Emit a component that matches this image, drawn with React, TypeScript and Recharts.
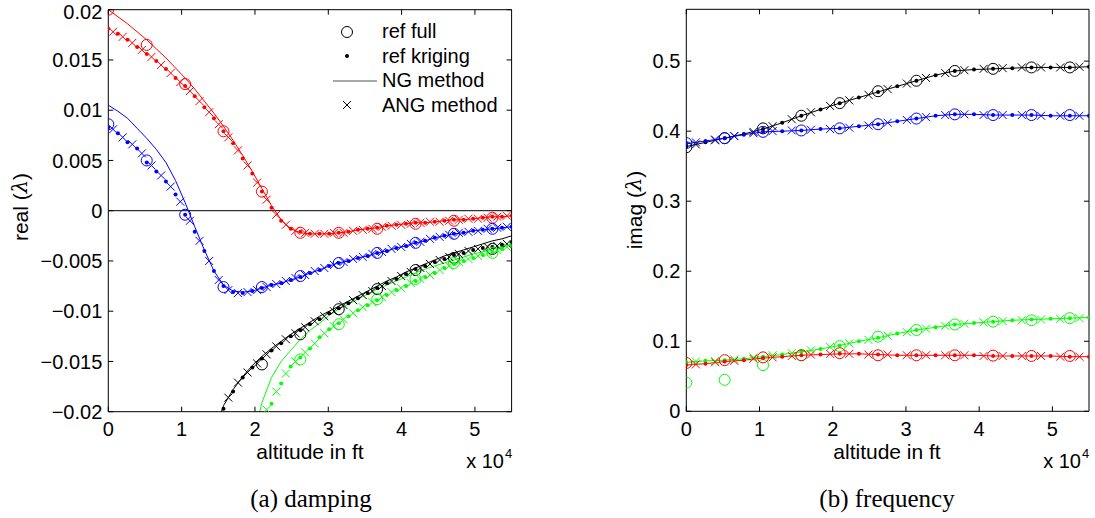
import React from 'react';
import { ComposedChart, Line, XAxis, YAxis, ReferenceLine, Legend } from 'recharts';

const RED = '#ff0000';
const BLUE = '#0000ff';
const BLACK = '#000000';
const GREEN = '#00ff00';
const FONT = '"Liberation Sans", Arial, Helvetica, sans-serif';

// altitude in 1e4 ft
const altFull = [0, 0.524, 1.048, 1.571, 2.095, 2.619, 3.143, 3.667, 4.19, 4.714, 5.238];
const altKrig = [0, 0.131, 0.262, 0.393, 0.524, 0.655, 0.786, 0.917, 1.048, 1.179, 1.31, 1.441, 1.571, 1.702, 1.833, 1.964, 2.095, 2.226, 2.357, 2.488, 2.619, 2.75, 2.881, 3.012, 3.143, 3.274, 3.405, 3.536, 3.667, 3.798, 3.929, 4.06, 4.19, 4.321, 4.452, 4.583, 4.714, 4.845, 4.976, 5.107, 5.238, 5.369, 5.5];
const altAng = [0.065, 0.196, 0.327, 0.458, 0.589, 0.72, 0.851, 0.982, 1.113, 1.244, 1.375, 1.506, 1.637, 1.768, 1.899, 2.03, 2.16, 2.291, 2.422, 2.553, 2.684, 2.815, 2.946, 3.077, 3.208, 3.339, 3.47, 3.601, 3.732, 3.863, 3.994, 4.125, 4.256, 4.387, 4.518, 4.649, 4.78, 4.911, 5.042, 5.173, 5.304, 5.435];
const altR = [0, 0.262, 0.524, 0.786, 1.048, 1.31, 1.571, 1.833, 2.095, 2.357, 2.619, 2.881, 3.143, 3.405, 3.667, 3.929, 4.19, 4.452, 4.714, 4.976, 5.238, 5.5];
const altRAng = [0.131, 0.393, 0.655, 0.917, 1.179, 1.441, 1.702, 1.964, 2.226, 2.488, 2.75, 3.012, 3.274, 3.536, 3.798, 4.06, 4.321, 4.583, 4.845, 5.107, 5.369];

const xTicks = [0, 1, 2, 3, 4, 5];
const realTicks = [-0.02, -0.015, -0.01, -0.005, 0, 0.005, 0.01, 0.015, 0.02];
const imagTicks = [0, 0.1, 0.2, 0.3, 0.4, 0.5];

const N = null;

// ---- damping (real part) ----
const realFullRed = [0.02, 0.0165, 0.0126, 0.0079, 0.0019, -0.0022, -0.0022, -0.0018, -0.0013, -0.001, -0.0007];
const realFullBlue = [0.0086, 0.005, -0.0004, -0.0076, -0.0076, -0.0065, -0.0052, -0.0042, -0.0032, -0.0023, -0.0018];
const realFullBlack = [N, N, N, N, -0.0153, -0.0123, -0.0098, -0.0078, -0.0059, -0.0047, -0.0038];
const realFullGreen = [N, N, N, N, N, -0.0148, -0.0113, -0.0088, -0.0068, -0.0052, -0.0042];

const realKrigRed = [0.0181, 0.0176, 0.017, 0.0163, 0.0156, 0.0149, 0.0141, 0.0132, 0.0124, 0.0114,
  0.0103, 0.0092, 0.0079, 0.0067, 0.0052, 0.0037, 0.0019, 0.0003, -0.001, -0.0018,
  -0.0021, -0.0023, -0.0023, -0.0023, -0.0022, -0.0021, -0.0019, -0.0018, -0.0017, -0.0015,
  -0.0014, -0.0013, -0.0012, -0.0012, -0.0011, -0.001, -0.0009, -0.0009, -0.0008, -0.0007,
  -0.0006, -0.0006, -0.0005];
const realKrigBlue = [0.0083, 0.0077, 0.0068, 0.0062, 0.0048, 0.0039, 0.0029, 0.0016, -0.0004, -0.0021,
  -0.004, -0.006, -0.0075, -0.0081, -0.0082, -0.008, -0.0077, -0.0074, -0.0072, -0.0069,
  -0.0066, -0.0062, -0.0059, -0.0055, -0.0052, -0.005, -0.0047, -0.0045, -0.0042, -0.004,
  -0.0037, -0.0035, -0.0032, -0.003, -0.0027, -0.0025, -0.0023, -0.0022, -0.002, -0.0019,
  -0.0018, -0.0017, -0.0016];
const realKrigBlack = [N, N, N, N, N, N, N, N, N, N,
  N, N, -0.0197, -0.018, -0.0166, -0.0156, -0.0147, -0.0139, -0.0132, -0.0125,
  -0.0119, -0.0113, -0.0108, -0.0102, -0.0097, -0.0092, -0.0087, -0.0082, -0.0077, -0.0072,
  -0.0068, -0.0063, -0.0058, -0.0055, -0.0051, -0.0048, -0.0044, -0.0042, -0.0039, -0.0037,
  -0.0036, -0.0034, -0.0032];
const realKrigGreen = [N, N, N, N, N, N, N, N, N, N,
  N, N, N, N, N, N, N, -0.0192, -0.0172, -0.0155,
  -0.0146, -0.0137, -0.0126, -0.0118, -0.0112, -0.0105, -0.0099, -0.0094, -0.0089, -0.0084,
  -0.0079, -0.0075, -0.007, -0.0066, -0.0062, -0.0057, -0.0053, -0.005, -0.0047, -0.0044,
  -0.0041, -0.0038, -0.0035];

const realNgRed = [0.02, 0.0193, 0.0186, 0.0178, 0.017, 0.0161, 0.0152, 0.0142, 0.0132, 0.0121,
  0.0109, 0.0097, 0.0084, 0.007, 0.0055, 0.0039, 0.0022, 0.0005, -0.0009, -0.0018,
  -0.0022, -0.0023, -0.0023, -0.0023, -0.0022, -0.0021, -0.0019, -0.0018, -0.0017, -0.0015,
  -0.0014, -0.0013, -0.0012, -0.0012, -0.0011, -0.001, -0.0009, -0.0009, -0.0008, -0.0007,
  -0.0006, -0.0006, -0.0005];
const realNgBlue = [0.0105, 0.0099, 0.0092, 0.0082, 0.0072, 0.0061, 0.0048, 0.003, 0.0008, -0.0016,
  -0.0039, -0.006, -0.0074, -0.008, -0.0081, -0.008, -0.0077, -0.0074, -0.0072, -0.0069,
  -0.0066, -0.0062, -0.0059, -0.0055, -0.0052, -0.005, -0.0047, -0.0045, -0.0042, -0.004,
  -0.0037, -0.0035, -0.0032, -0.003, -0.0027, -0.0025, -0.0023, -0.0022, -0.002, -0.0019,
  -0.0018, -0.0017, -0.0016];
const realNgBlack = [N, N, N, N, N, N, N, N, N, N,
  N, -0.0222, -0.0194, -0.0178, -0.0165, -0.0154, -0.0145, -0.0137, -0.013, -0.0123,
  -0.0117, -0.0111, -0.0105, -0.01, -0.0095, -0.009, -0.0085, -0.008, -0.0075, -0.007,
  -0.0066, -0.0061, -0.0057, -0.0053, -0.0049, -0.0045, -0.0042, -0.0039, -0.0036, -0.0033,
  -0.003, -0.0028, -0.0025];
const realNgGreen = [N, N, N, N, N, N, N, N, N, N,
  N, N, N, N, N, -0.023, -0.0191, -0.0166, -0.015, -0.0139,
  -0.0128, -0.0119, -0.0112, -0.0104, -0.0098, -0.0093, -0.0088, -0.0083, -0.0078, -0.0074,
  -0.007, -0.0066, -0.0062, -0.0058, -0.0055, -0.0052, -0.0049, -0.0046, -0.0043, -0.0041,
  -0.0038, -0.0036, -0.0034];

const realAngRed = [0.0178, 0.0173, 0.0167, 0.016, 0.0153, 0.0145, 0.0137, 0.0128, 0.0119, 0.0109,
  0.0098, 0.0086, 0.0073, 0.006, 0.0045, 0.0028, 0.0011, -0.0004, -0.0014, -0.002,
  -0.0022, -0.0023, -0.0023, -0.0022, -0.0022, -0.002, -0.0019, -0.0018, -0.0016, -0.0015,
  -0.0014, -0.0013, -0.0012, -0.0011, -0.0011, -0.001, -0.0009, -0.0008, -0.0008, -0.0007,
  -0.0006, -0.0005];
const realAngBlue = [0.0081, 0.0073, 0.0066, 0.0057, 0.0045, 0.0035, 0.0024, 0.0009, -0.001, -0.003,
  -0.005, -0.0069, -0.0079, -0.0082, -0.0081, -0.0079, -0.0076, -0.0073, -0.007, -0.0067,
  -0.0064, -0.006, -0.0057, -0.0054, -0.0051, -0.0048, -0.0046, -0.0043, -0.0041, -0.0038,
  -0.0036, -0.0033, -0.0031, -0.0028, -0.0026, -0.0024, -0.0022, -0.0021, -0.002, -0.0018,
  -0.0017, -0.0016];
const realAngBlack = [N, N, N, N, N, N, N, N, N, N,
  N, N, -0.0186, -0.0171, -0.0161, -0.0152, -0.0143, -0.0135, -0.0128, -0.0122,
  -0.0116, -0.011, -0.0105, -0.01, -0.0094, -0.0089, -0.0084, -0.008, -0.0075, -0.007,
  -0.0065, -0.0061, -0.0057, -0.0053, -0.0049, -0.0046, -0.0043, -0.004, -0.0038, -0.0036,
  -0.0035, -0.0033];
const realAngGreen = [N, N, N, N, N, N, N, N, N, N,
  N, N, N, N, N, N, -0.0198, -0.018, -0.0162, -0.015,
  -0.0141, -0.0132, -0.0122, -0.0115, -0.0108, -0.0102, -0.0096, -0.0091, -0.0086, -0.0081,
  -0.0077, -0.0072, -0.0068, -0.0064, -0.0059, -0.0055, -0.0051, -0.0048, -0.0045, -0.0042,
  -0.0039, -0.0036];

// ---- frequency (imaginary part) ----
const imagFullBlack = [0.377, 0.39, 0.404, 0.422, 0.44, 0.457, 0.472, 0.486, 0.489, 0.491, 0.491];
const imagFullBlue = [0.383, 0.39, 0.399, 0.401, 0.404, 0.41, 0.418, 0.424, 0.423, 0.423, 0.423];
const imagFullRed = [0.069, 0.073, 0.077, 0.08, 0.083, 0.08, 0.08, 0.08, 0.0795, 0.079, 0.079];
const imagFullGreen = [0.041, 0.045, 0.066, 0.08, 0.093, 0.1066, 0.116, 0.124, 0.128, 0.13, 0.133];

const imagKrigBlack = [0.378, 0.384, 0.39, 0.396, 0.403, 0.412, 0.422, 0.431, 0.44, 0.448, 0.456, 0.464, 0.472, 0.48, 0.486, 0.488, 0.489, 0.49, 0.491, 0.491, 0.491, 0.492];
const imagKrigBlue = [0.382, 0.386, 0.39, 0.395, 0.399, 0.4, 0.401, 0.403, 0.404, 0.407, 0.41, 0.414, 0.418, 0.422, 0.424, 0.424, 0.423, 0.423, 0.423, 0.422, 0.422, 0.422];
const imagKrigRed = [0.066, 0.068, 0.071, 0.073, 0.076, 0.078, 0.08, 0.081, 0.082, 0.082, 0.081, 0.08, 0.08, 0.08, 0.08, 0.08, 0.079, 0.079, 0.079, 0.079, 0.078, 0.078];
const imagKrigGreen = [0.07, 0.072, 0.073, 0.075, 0.078, 0.081, 0.085, 0.089, 0.094, 0.1, 0.105, 0.111, 0.116, 0.12, 0.124, 0.126, 0.128, 0.13, 0.131, 0.132, 0.133, 0.134];

const imagAngBlack = [0.381, 0.387, 0.393, 0.399, 0.407, 0.417, 0.427, 0.436, 0.444, 0.452, 0.46, 0.468, 0.476, 0.483, 0.487, 0.489, 0.49, 0.491, 0.491, 0.491, 0.492];
const imagAngBlue = [0.384, 0.388, 0.393, 0.397, 0.4, 0.401, 0.402, 0.403, 0.405, 0.408, 0.412, 0.416, 0.42, 0.423, 0.424, 0.423, 0.423, 0.423, 0.422, 0.422, 0.422];
const imagAngRed = [0.067, 0.07, 0.072, 0.075, 0.077, 0.079, 0.081, 0.082, 0.082, 0.081, 0.081, 0.08, 0.08, 0.08, 0.08, 0.079, 0.079, 0.079, 0.079, 0.078, 0.078];
const imagAngGreen = [0.071, 0.072, 0.074, 0.077, 0.08, 0.083, 0.087, 0.092, 0.097, 0.102, 0.108, 0.113, 0.118, 0.122, 0.125, 0.127, 0.129, 0.13, 0.131, 0.132, 0.133];

type Pt = { x: number; y: number };
const pts = (xs: number[], ys: (number | null)[]): Pt[] =>
  xs.map((x, i) => ({ x, y: ys[i] })).filter((p) => p.y !== null && p.y !== undefined) as Pt[];

const ring = (color: string) => (p: any) =>
  p.cx == null || p.cy == null ? <g key={p.index} /> :
    <circle key={p.index} cx={p.cx} cy={p.cy} r={5.5} fill="none" stroke={color} strokeWidth={1} />;
const dot = (color: string) => (p: any) =>
  p.cx == null || p.cy == null ? <g key={p.index} /> :
    <circle key={p.index} cx={p.cx} cy={p.cy} r={2} fill={color} stroke="none" />;
const cross = (color: string) => (p: any) =>
  p.cx == null || p.cy == null ? <g key={p.index} /> : (
    <path key={p.index} d={`M${p.cx - 4},${p.cy - 4}L${p.cx + 4},${p.cy + 4}M${p.cx - 4},${p.cy + 4}L${p.cx + 4},${p.cy - 4}`}
      stroke={color} strokeWidth={1} fill="none" />
  );

type S = { color: string; full: (number | null)[]; krig: (number | null)[]; ng: (number | null)[] | null; ang: (number | null)[] };

const series = (list: S[], kx: number[], ax: number[], ngx: number[]) =>
  list.flatMap((s, i) => {
    const common = { xAxisId: 'b', yAxisId: 'l', dataKey: 'y', isAnimationActive: false, activeDot: false, legendType: 'none' as const };
    return [
      <Line key={`f${i}`} {...common} data={pts(altFull, s.full)} stroke="none" dot={ring(s.color)} />,
      <Line key={`k${i}`} {...common} data={pts(kx, s.krig)} stroke={s.ng ? 'none' : s.color} strokeWidth={1} dot={dot(s.color)} />,
      s.ng ? <Line key={`n${i}`} {...common} data={pts(ngx, s.ng)} stroke={s.color} strokeWidth={1} dot={false} /> : null,
      <Line key={`a${i}`} {...common} data={pts(ax, s.ang)} stroke="none" dot={cross(s.color)} />,
    ];
  });

const fmt = (v: number) => (v === 0 ? '0' : v < 0 ? '\u2212' + String(-v) : String(v));
const tickStyle = { fill: '#000', fontSize: 20, fontFamily: FONT };

const LegendBox = () => {
  const rows: [string, React.ReactNode][] = [
    ['ref full', <circle cx={25} cy={12} r={5.5} fill="none" stroke="#000" />],
    ['ref kriging', <circle cx={25} cy={12} r={2} fill="#000" />],
    ['NG method', <line x1={11} x2={55} y1={12} y2={12} stroke="#555" strokeWidth={1.2} />],
    ['ANG method', <path d="M21,8L29,16M21,16L29,8" stroke="#000" fill="none" />],
  ];
  return (
    <div style={{ fontFamily: FONT, fontSize: 20, color: '#000' }}>
      {rows.map(([t, m]) => (
        <div key={t} style={{ display: 'flex', alignItems: 'center', height: 24.5 }}>
          <svg width={56} height={24} style={{ display: 'block' }}>{m}</svg>
          <span style={{ marginLeft: 4, whiteSpace: 'nowrap' }}>{t}</span>
        </div>
      ))}
    </div>
  );
};

export default function App() {
  const leftSeries: S[] = [
    { color: RED, full: realFullRed, krig: realKrigRed, ng: realNgRed, ang: realAngRed },
    { color: BLUE, full: realFullBlue, krig: realKrigBlue, ng: realNgBlue, ang: realAngBlue },
    { color: BLACK, full: realFullBlack, krig: realKrigBlack, ng: realNgBlack, ang: realAngBlack },
    { color: GREEN, full: realFullGreen, krig: realKrigGreen, ng: realNgGreen, ang: realAngGreen },
  ];
  const rightSeries: S[] = [
    { color: BLACK, full: imagFullBlack, krig: imagKrigBlack, ng: null, ang: imagAngBlack },
    { color: BLUE, full: imagFullBlue, krig: imagKrigBlue, ng: null, ang: imagAngBlue },
    { color: GREEN, full: imagFullGreen, krig: imagKrigGreen, ng: null, ang: imagAngGreen },
    { color: RED, full: imagFullRed, krig: imagKrigRed, ng: null, ang: imagAngRed },
  ];

  // top/right axes only draw the box with inward ticks; a hidden line binds them
  const axes = (domain: [number, number], ticks: number[], frameData: Pt[]) => [
    <XAxis key="xb" xAxisId="b" type="number" dataKey="x" domain={[0, 5.5]} ticks={xTicks} allowDataOverflow
      height={30} tickSize={-5} tickMargin={15} stroke="#000" tick={tickStyle} />,
    <XAxis key="xt" xAxisId="t" orientation="top" type="number" dataKey="x" domain={[0, 5.5]} ticks={xTicks}
      allowDataOverflow height={1} tickSize={-5} stroke="#000" tick={() => <g />} />,
    <YAxis key="yl" yAxisId="l" type="number" domain={domain} ticks={ticks} allowDataOverflow width={90}
      tickSize={-5} tickMargin={11} stroke="#000" tick={tickStyle} tickFormatter={fmt} />,
    <YAxis key="yr" yAxisId="r" orientation="right" type="number" domain={domain} ticks={ticks}
      allowDataOverflow width={1} tickSize={-5} stroke="#000" tick={() => <g />} />,
    <Line key="frame" xAxisId="t" yAxisId="r" data={frameData} dataKey="y" stroke="none" dot={false}
      activeDot={false} isAnimationActive={false} legendType="none" />,
  ];

  return (
    <div style={{ position: 'absolute', left: 0, top: 0, width: 1095, height: 518, background: '#fff' }}>
      <div style={{ position: 'absolute', left: 0, top: 0 }}>
        <ComposedChart width={560} height={480} margin={{ top: 8.7, right: 47.4, left: 18.3, bottom: 38.3 }}>
          {axes([-0.02, 0.02], realTicks, pts(altFull, realFullRed))}
          <ReferenceLine xAxisId="b" yAxisId="l" y={0} stroke="#000" strokeWidth={1} />
          {series(leftSeries, altKrig, altAng, altKrig)}
          <Legend layout="horizontal" verticalAlign="middle" align="center" content={() => <LegendBox />}
            wrapperStyle={{ position: 'absolute', top: 19.5, left: 322, width: 190, height: 100 }} />
        </ComposedChart>
      </div>
      <div style={{ position: 'absolute', left: 560, top: 0 }}>
        <ComposedChart width={535} height={480} margin={{ top: 8.3, right: 5, left: 36.3, bottom: 38.7 }}>
          {axes([0, 0.574], imagTicks, pts(altFull, imagFullBlack))}
          {series(rightSeries, altR, altRAng, altR)}
        </ComposedChart>
      </div>
      <svg width={1095} height={518} style={{ position: 'absolute', left: 0, top: 0, pointerEvents: 'none' }}>
        <g fontFamily={FONT} fontSize={21} fill="#000">
          <text transform="translate(20,207) rotate(-90)" textAnchor="middle" dominantBaseline="central">
            real (<tspan fontFamily="DejaVu Serif" fontStyle="italic">λ</tspan>)
          </text>
          <text transform="translate(634,210) rotate(-90)" textAnchor="middle" dominantBaseline="central">
            imag (<tspan fontFamily="DejaVu Serif" fontStyle="italic">λ</tspan>)
          </text>
          <text x={310} y={459} textAnchor="middle">altitude in ft</text>
          <text x={887} y={459} textAnchor="middle">altitude in ft</text>
          <text x={504} y={468} textAnchor="end" fontSize={20}>x 10</text>
          <text x={505} y={458} fontSize={13}>4</text>
          <text x={1081} y={468} textAnchor="end" fontSize={20}>x 10</text>
          <text x={1082} y={458} fontSize={13}>4</text>
        </g>
        <g fontFamily='"Liberation Serif", "Times New Roman", serif' fontSize={25} fill="#000">
          <text x={311} y={507} textAnchor="middle">(a) damping</text>
          <text x={887} y={507} textAnchor="middle">(b) frequency</text>
        </g>
      </svg>
    </div>
  );
}
